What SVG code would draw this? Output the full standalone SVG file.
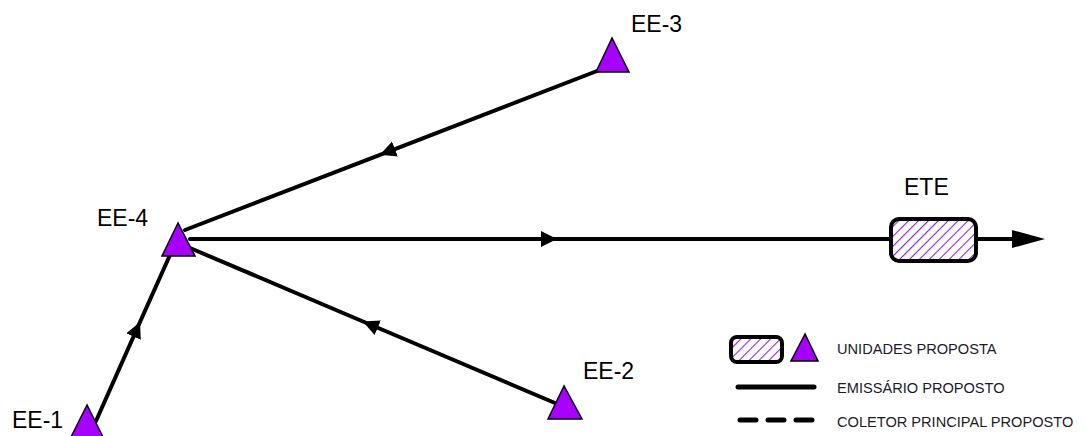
<svg xmlns="http://www.w3.org/2000/svg" width="1085" height="436" viewBox="0 0 1085 436">
<style>
.lbl{font-family:"Liberation Sans",Arial,sans-serif;font-size:23px;fill:#000}
.leg{font-family:"Liberation Sans",Arial,sans-serif;font-size:14.6px;fill:#1a1a2a}
.tri{fill:#a600ff;stroke:#000;stroke-width:1.5;stroke-linejoin:miter}
.box{fill:url(#hatch);stroke:#000;stroke-width:4}
.con{fill:none;stroke:#000;stroke-width:4;stroke-linecap:round}
</style>
<defs>
<pattern id="hatch" patternUnits="userSpaceOnUse" width="7" height="7" patternTransform="rotate(45)">
<rect width="7" height="7" fill="#fff"/>
<line x1="0" y1="0" x2="0" y2="7" stroke="#8e24d8" stroke-width="2.2"/>
</pattern>
<marker id="mid" markerUnits="userSpaceOnUse" markerWidth="18" markerHeight="18" refX="16" refY="8" orient="auto">
<path d="M0,0 L16,8 L0,16 z" fill="#000"/>
</marker>
</defs>
<g id="connectors">
<path class="con" d="M597,71 L380,154.8 L185,230" marker-mid="url(#mid)"/>
<path class="con" d="M190,239 L557,239 L889,239" stroke-width="5" marker-mid="url(#mid)"/>
<path class="con" d="M977,239 L1012,239" stroke-width="5"/>
<path d="M1012,230 L1045,239 L1012,248 z" fill="#000"/>
<path class="con" d="M555,403 L363,321.5 L190,248" marker-mid="url(#mid)"/>
<path class="con" d="M96,421 L140,322 L170,255" marker-mid="url(#mid)"/>
</g>
<g id="EE-4">
<polygon class="tri" points="178,223 162,256 195,256"/>
<text class="lbl" x="97" y="226">EE-4</text>
</g>
<g id="EE-3">
<polygon class="tri" points="612,38 596,72 629,72"/>
<text class="lbl" x="631" y="32">EE-3</text>
</g>
<g id="EE-2">
<polygon class="tri" points="564,386 548,419 582,419"/>
<text class="lbl" x="583" y="379">EE-2</text>
</g>
<g id="EE-1">
<polygon class="tri" points="87,405 70,439 104,439"/>
<text class="lbl" x="12" y="428">EE-1</text>
</g>
<g id="ETE">
<rect class="box" x="891" y="219" width="85" height="42" rx="8"/>
<text class="lbl" x="904" y="195">ETE</text>
</g>
<g id="legend">
<rect class="box" x="731" y="337" width="51" height="25" rx="6"/>
<polygon class="tri" points="805,334 791,361 818,361"/>
<text class="leg" x="837" y="354">UNIDADES PROPOSTA</text>
<line x1="738" y1="387" x2="814" y2="387" stroke="#000" stroke-width="5" stroke-linecap="round"/>
<text class="leg" x="837" y="393">EMISSÁRIO PROPOSTO</text>
<line x1="740" y1="420" x2="812" y2="420" stroke="#000" stroke-width="5" stroke-linecap="round" stroke-dasharray="16 12"/>
<text class="leg" x="837" y="427">COLETOR PRINCIPAL PROPOSTO</text>
</g>
</svg>
